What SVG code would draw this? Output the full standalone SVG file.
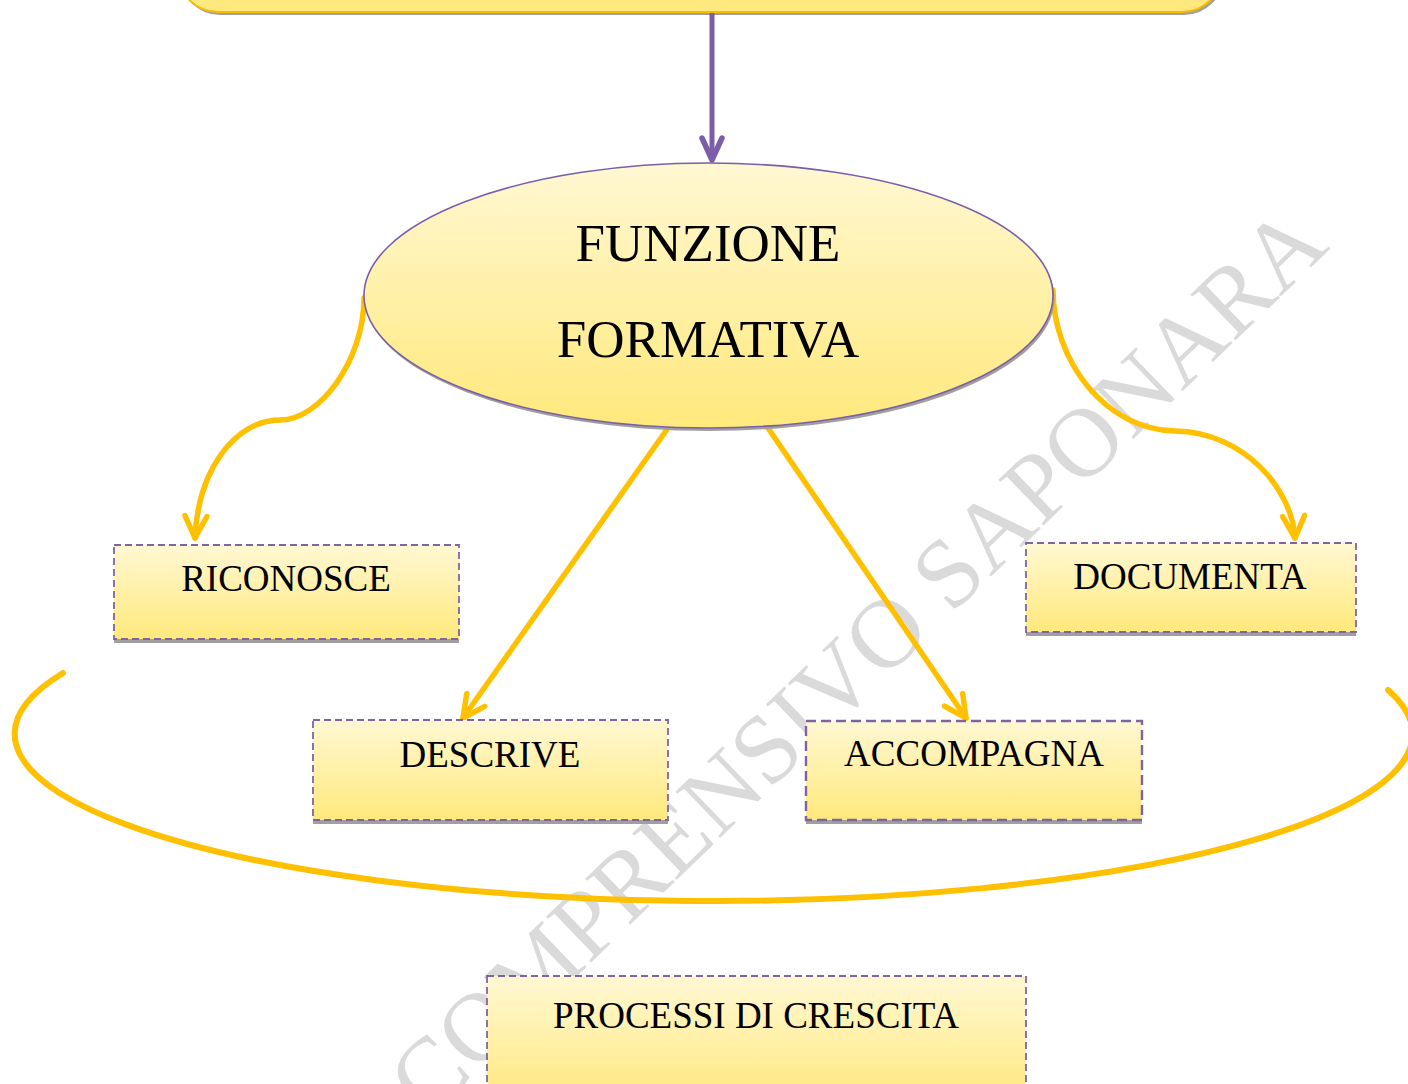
<svg xmlns="http://www.w3.org/2000/svg" width="1408" height="1084" viewBox="0 0 1408 1084">
<defs>
<linearGradient id="gy" x1="0" y1="0" x2="0" y2="1">
<stop offset="0" stop-color="#FFF8D3"/>
<stop offset="1" stop-color="#FFE97C"/>
</linearGradient>
<marker id="ag" markerUnits="userSpaceOnUse" viewBox="-28 -16 34 32" markerWidth="34" markerHeight="32" refX="0" refY="0" orient="auto">
<path d="M-22,-11 L0,0 L-22,11" fill="none" stroke="#FFC000" stroke-width="5.5" stroke-linecap="round" stroke-linejoin="round"/>
</marker>
<marker id="ap" markerUnits="userSpaceOnUse" viewBox="-28 -16 34 32" markerWidth="34" markerHeight="32" refX="0" refY="0" orient="auto">
<path d="M-22,-10 L0,0 L-22,10" fill="none" stroke="#7B5EA7" stroke-width="5.5" stroke-linecap="round" stroke-linejoin="round"/>
</marker>
</defs>
<style>
.lbl{font-family:"Liberation Serif","Times New Roman",serif;fill:#000;text-anchor:middle}
.box{fill:url(#gy);stroke:#8064A2;stroke-width:1.8;stroke-dasharray:7 4}
.sh{fill:#A0A0A0}
.con{fill:none;stroke:#FFC000;stroke-width:5.5;stroke-linecap:round}
.wm{font-family:"Liberation Serif","Times New Roman",serif;fill:#DADADA;font-size:98px}
</style>
<rect width="1408" height="1084" fill="#FFFFFF"/>
<text class="wm" transform="translate(428,1120) rotate(-44)">COMPRENSIVO SAPONARA</text>
<g id="top-box">
<rect class="sh" x="180" y="-100" width="1044" height="115" rx="40"/>
<rect x="178" y="-100" width="1044" height="112" rx="40" fill="#FFE97F" stroke="#F5BC00" stroke-width="2"/>
</g>
<g id="connectors">
<path d="M712,13 L712,160" fill="none" stroke="#7B5EA7" stroke-width="5" marker-end="url(#ap)"/>
<path class="con" d="M364,298 C364,360 320,420 280,420 C235,420 198,470 195,538" marker-end="url(#ag)"/>
<path class="con" d="M1053,290 C1053,360 1105,430 1175,431 C1245,432 1292,490 1295,538" marker-end="url(#ag)"/>
<path class="con" d="M668,428 L463,718" marker-end="url(#ag)"/>
<path class="con" d="M768,428 L966,718" marker-end="url(#ag)"/>
<path class="con" d="M63,673 A699,167 0 1 0 1388,690" style="stroke-width:6"/>
</g>
<g id="funzione-formativa">
<ellipse class="sh" cx="710" cy="298.5" rx="344.5" ry="132.5"/>
<ellipse cx="708.5" cy="295.5" rx="344.5" ry="132.5" fill="url(#gy)" stroke="#7B5EA7" stroke-width="1.6"/>
<text class="lbl" x="708" y="261" font-size="53">FUNZIONE</text>
<text class="lbl" x="708" y="357" font-size="53">FORMATIVA</text>
</g>
<g id="riconosce">
<rect class="sh" x="114" y="548" width="345" height="95"/>
<rect class="box" x="114" y="545" width="345" height="94"/>
<text class="lbl" x="286" y="591" font-size="37">RICONOSCE</text>
</g>
<g id="documenta">
<rect class="sh" x="1026" y="546" width="330" height="90"/>
<rect class="box" x="1026" y="543" width="330" height="89"/>
<text class="lbl" x="1190" y="589" font-size="37">DOCUMENTA</text>
</g>
<g id="descrive">
<rect class="sh" x="313" y="723" width="355" height="101"/>
<rect class="box" x="313" y="720" width="355" height="100"/>
<text class="lbl" x="490" y="767" font-size="37">DESCRIVE</text>
</g>
<g id="accompagna">
<rect class="sh" x="806" y="724" width="336" height="100"/>
<rect class="box" x="806" y="721" width="336" height="99" style="stroke-width:2.4;stroke-dasharray:10 5"/>
<text class="lbl" x="974" y="766" font-size="37">ACCOMPAGNA</text>
</g>
<g id="processi-di-crescita">
<rect class="box" x="487" y="976" width="539" height="130"/>
<text class="lbl" x="756" y="1028" font-size="37">PROCESSI DI CRESCITA</text>
</g>
</svg>
